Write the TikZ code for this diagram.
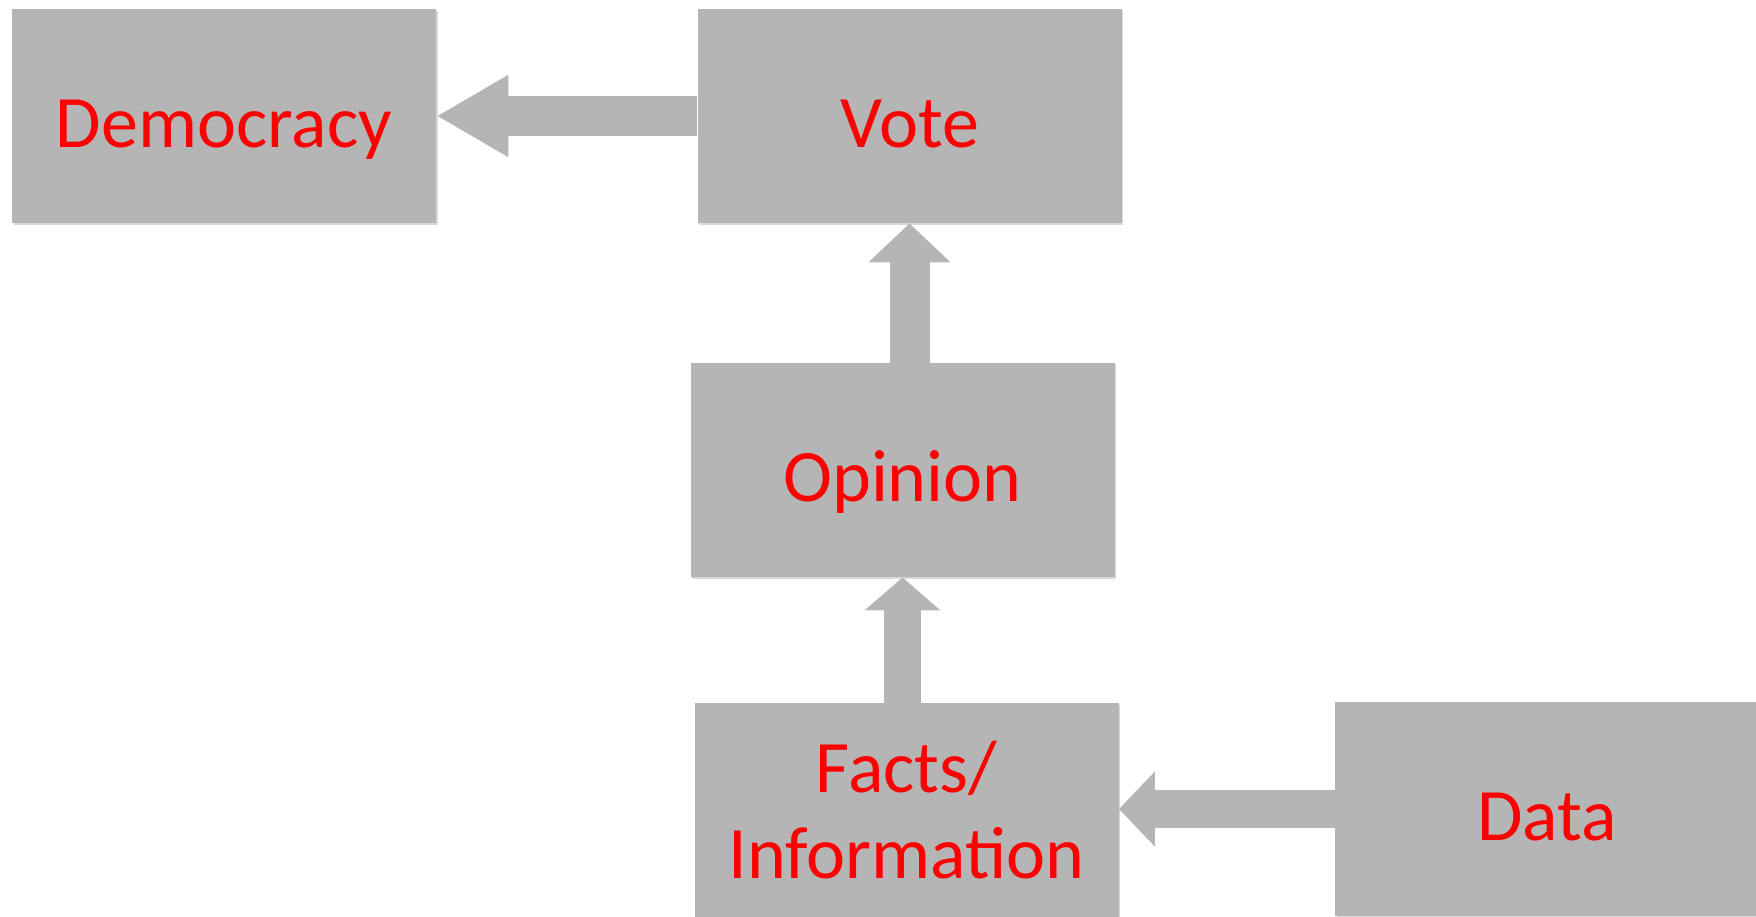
\documentclass[tikz,border=0pt]{standalone}
\usepackage{fontspec}
\setmainfont{Carlito}
\usetikzlibrary{arrows.meta,shadows}
\definecolor{boxgray}{HTML}{B5B5B5}
\tikzset{
	chainbox/.style={rectangle,fill=boxgray,text=red,inner sep=0pt,
		minimum width=212pt,minimum height=107pt,align=center,
		font=\fontsize{37}{43}\selectfont,
		drop shadow={shadow xshift=0.8pt,shadow yshift=-1pt,fill=black,opacity=0.15}},
	oneline/.style={text height=33pt,text depth=2pt},
	fatlink/.style={draw=boxgray}
}
\begin{document}
\begin{tikzpicture}[x=0.5pt,y=-0.5pt]
	\useasboundingbox (0,0) rectangle (1756,916);
	% Place nodes
	\node [chainbox,oneline] (democracy) at (224,116) {Democracy};
	\node [chainbox,oneline] (vote) at (909.5,116) {Vote};
	\node [chainbox,oneline] (opinion) at (902.5,470) {Opinion};
	\node [chainbox] (facts) at (906.5,810) {Facts/\\Information};
	\node [chainbox,oneline] (data) at (1547,809) {Data};

	% Block arrows
	\draw [fatlink,line width=20pt,-{Triangle[width=38.5pt,length=36pt]}] (vote.west) -- (democracy.east);
	\draw [fatlink,line width=20pt,-{Triangle[width=40pt,length=19.5pt]}] (vote.south |- opinion.north) -- (vote.south);
	\draw [fatlink,line width=18.5pt,-{Triangle[width=37pt,length=16.5pt]}] (opinion.south |- facts.north) -- (opinion.south);
	\draw [fatlink,line width=19pt,-{Triangle[width=36.5pt,length=18pt]}] (data.west) -- (data.west -| facts.east);
\end{tikzpicture}
\end{document}
